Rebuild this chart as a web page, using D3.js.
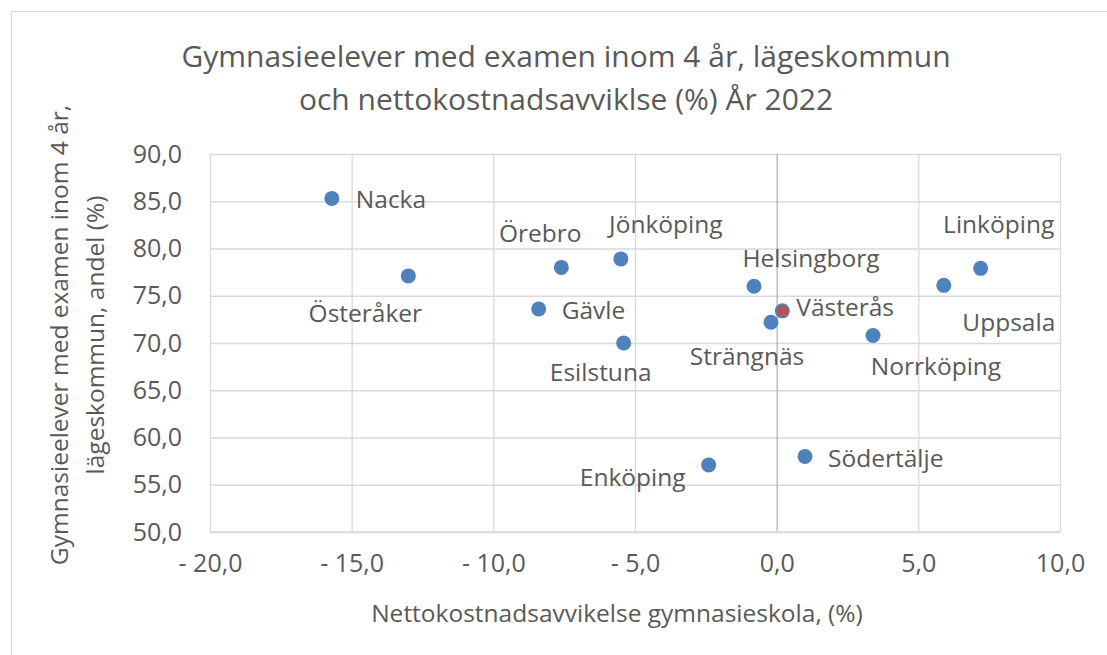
<!DOCTYPE html>
<html>
<head>
<meta charset="utf-8">
<script src="https://cdn.jsdelivr.net/npm/d3@7"></script>
<style>
  body { margin: 0; background: #fff; }
  svg text { font-family: "Open Sans", sans-serif; fill: #595959; }
</style>
</head>
<body>
<div id="chart"></div>
<script>
// data
const kommuner = ["Nacka", "Österåker", "Örebro", "Jönköping", "Gävle", "Esilstuna", "Helsingborg",
  "Västerås", "Strängnäs", "Linköping", "Uppsala", "Norrköping", "Enköping", "Södertälje"];
const kostnadsavvikelse = [-15.7, -13.0, -7.6, -5.5, -8.4, -5.4, -0.8, 0.2, -0.2, 7.2, 5.9, 3.4, -2.4, 1.0];
const examenAndel = [85.3, 77.1, 78.0, 78.9, 73.6, 70.0, 76.0, 73.4, 72.2, 77.9, 76.1, 70.8, 57.1, 58.0];
const markerad = "Västerås";
const xTicks = [-20, -15, -10, -5, 0, 5, 10];
const yTicks = [50, 55, 60, 65, 70, 75, 80, 85, 90];
const titleLines = ["Gymnasieelever med examen inom 4 år, lägeskommun", "och nettokostnadsavviklse (%) År 2022"];
const yTitleLines = ["Gymnasieelever med examen inom 4 år,", "lägeskommun, andel (%)"];
const xTitle = "Nettokostnadsavvikelse gymnasieskola, (%)";

// where each data label sits relative to its dot (manually placed, like in the original)
const labelPlacement = {
  "Nacka": [24, 0, "start"],
  "Österåker": [-43, 37, "middle"],
  "Örebro": [-21, -35, "middle"],
  "Jönköping": [45, -35, "middle"],
  "Gävle": [23, 1, "start"],
  "Esilstuna": [-23, 28, "middle"],
  "Helsingborg": [57, -29, "middle"],
  "Västerås": [14, -4, "start"],
  "Strängnäs": [-24, 33, "middle"],
  "Linköping": [18, -45, "middle"],
  "Uppsala": [65, 36, "middle"],
  "Norrköping": [63, 30, "middle"],
  "Enköping": [-76, 12, "middle"],
  "Södertälje": [23, 1, "start"]
};

const width = 1107, height = 655;
const margin = { top: 154, right: 47, bottom: 123, left: 210 };

const sv = d3.formatLocale({ decimal: ",", thousands: " ", grouping: [3], currency: ["", ""], minus: "- " });
const fmt = sv.format(".1f");

const points = kommuner.map((k, i) => ({ name: k, x: kostnadsavvikelse[i], y: examenAndel[i] }));

const svg = d3.select("#chart").append("svg")
  .attr("width", width)
  .attr("height", height);

svg.append("rect")
  .attr("x", 11.5).attr("y", 11.5)
  .attr("width", 1200).attr("height", 800)
  .attr("fill", "#fff")
  .attr("stroke", "#d9d9d9");

const x = d3.scaleLinear().domain([-20, 10]).range([margin.left, width - margin.right]);
const y = d3.scaleLinear().domain([50, 90]).range([height - margin.bottom, margin.top]);

// gridlines + y axis
svg.append("g")
  .attr("transform", `translate(${margin.left},0)`)
  .call(d3.axisLeft(y).tickValues(yTicks).tickFormat(fmt)
    .tickSize(-(width - margin.left - margin.right)).tickPadding(28))
  .call(g => g.select(".domain").remove())
  .call(g => g.selectAll(".tick line").attr("stroke", "#d9d9d9").attr("stroke-width", 1.3))
  .call(g => g.selectAll(".tick text").attr("font-size", 25).attr("fill", "#595959")
    .attr("font-family", "Open Sans"));

svg.append("g")
  .attr("transform", `translate(0,${height - margin.bottom})`)
  .call(d3.axisBottom(x).tickValues(xTicks).tickFormat(fmt)
    .tickSize(-(height - margin.top - margin.bottom)).tickPadding(22))
  .call(g => g.select(".domain").remove())
  .call(g => g.selectAll(".tick line").attr("stroke", d => d === 0 ? "#b4b4b4" : "#d9d9d9")
    .attr("stroke-width", 1.3))
  .call(g => g.selectAll(".tick text").attr("font-size", 25).attr("fill", "#595959")
    .attr("font-family", "Open Sans"));

// bottom edge of the plot
svg.append("line")
  .attr("x1", x(-20)).attr("x2", x(10))
  .attr("y1", y(50)).attr("y2", y(50))
  .attr("stroke", "#d9d9d9").attr("stroke-width", 1.3);

// dots
svg.append("g").selectAll("circle")
  .data(points)
  .join("circle")
  .attr("cx", d => x(d.x))
  .attr("cy", d => y(d.y))
  .attr("r", 7.5)
  .attr("fill", "#4f81bd");

svg.append("g").selectAll("circle")
  .data(points.filter(d => d.name === markerad))
  .join("circle")
  .attr("cx", d => x(d.x) + 0.5)
  .attr("cy", d => y(d.y))
  .attr("r", 5.8)
  .attr("fill", "#c0504d");

// labels
svg.append("g").selectAll("text")
  .data(points)
  .join("text")
  .attr("x", d => x(d.x) + labelPlacement[d.name][0])
  .attr("y", d => y(d.y) + labelPlacement[d.name][1])
  .attr("text-anchor", d => labelPlacement[d.name][2])
  .attr("dominant-baseline", "central")
  .attr("font-size", 24.5)
  .text(d => d.name);

// titles
svg.append("text")
  .attr("text-anchor", "middle")
  .attr("font-size", 30)
  .selectAll("tspan")
  .data(titleLines)
  .join("tspan")
  .attr("x", 566)
  .attr("y", (d, i) => 67 + i * 43)
  .text(d => d);

svg.append("text")
  .attr("transform", "translate(0,335) rotate(-90)")
  .attr("text-anchor", "middle")
  .attr("font-size", 24.5)
  .selectAll("tspan")
  .data(yTitleLines)
  .join("tspan")
  .attr("x", 0)
  .attr("y", (d, i) => 68 + i * 36)
  .text(d => d);

svg.append("text")
  .attr("x", 617)
  .attr("y", 622)
  .attr("text-anchor", "middle")
  .attr("font-size", 24.5)
  .text(xTitle);
</script>
</body>
</html>
